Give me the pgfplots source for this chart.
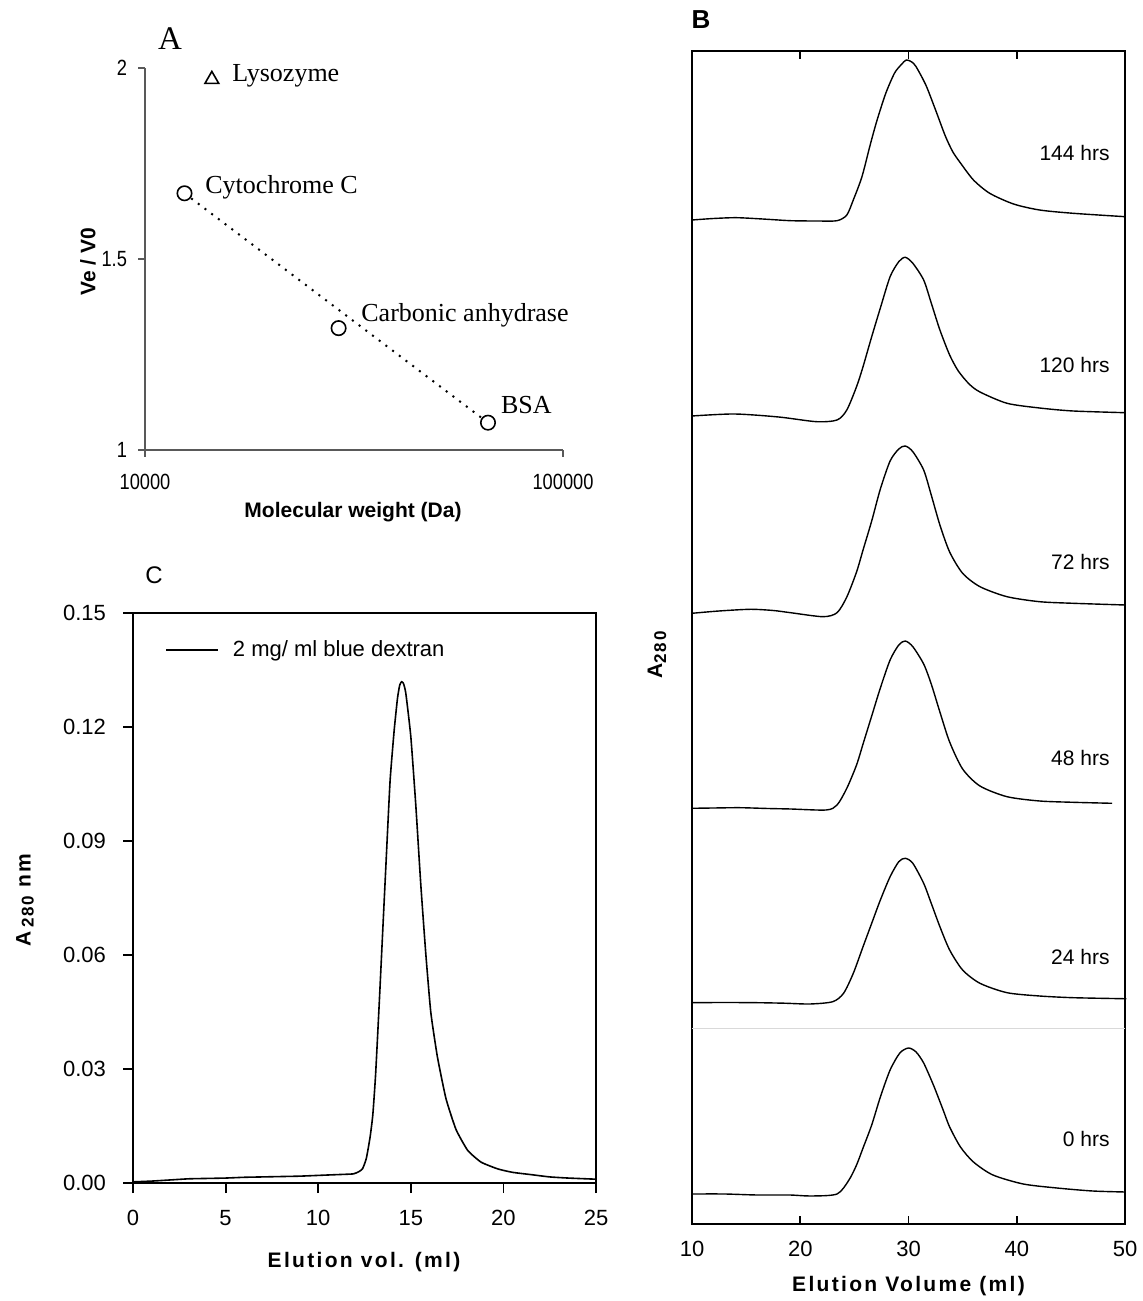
\documentclass[border=0pt]{standalone}
\usepackage{pgfplots}
\pgfplotsset{compat=1.18}
\usepackage{fontspec}
\setmainfont{Liberation Sans}
\newfontfamily\serifA{Liberation Serif}
\newfontfamily\narrowA[FakeStretch=0.83]{Liberation Sans}
\newfontfamily\labfont[LetterSpace=11]{Liberation Sans}
\pgfplotsset{trace/.style={black, line width=0.7pt, mark=none, smooth, tension=0.45}}
\begin{document}
\begin{tikzpicture}[x=1pt,y=1pt]
\useasboundingbox (0,0) rectangle (571.5,650.5);
% ---------------- Panel A ----------------
\begin{axis}[
  at={(72.5pt,425.5pt)}, anchor=south west,
  scale only axis, width=209pt, height=191pt,
  xmode=log, xmin=10000, xmax=100000, ymin=1, ymax=2,
  xminorticks=false,
  axis x line=bottom, axis y line=left,
  axis line style={-, black!65, line width=0.9pt},
  xtick={10000,100000}, xticklabels={10000,100000},
  ytick={1,1.5,2}, yticklabels={1,1.5,2},
  tick align=outside, major tick length=3.5pt,
  tick style={black!65, line width=0.9pt},
  ticklabel style={font=\narrowA\fontsize{11}{13}\selectfont},
  xticklabel style={yshift=-5pt},
  yticklabel style={xshift=-2pt},
  clip=false,
]
\addplot[black, line width=1pt, dash pattern=on 1pt off 3.2pt] coordinates {(12430,1.672) (66150,1.0715)};
\addplot[only marks, mark=*, mark size=3.6pt, mark options={fill=white, draw=black, line width=0.8pt}] coordinates {(12430,1.672) (29050,1.319) (66150,1.0715)};
\addplot[only marks, mark=triangle, mark size=4pt, mark options={draw=black, line width=0.8pt}] coordinates {(14450,1.970)};
\end{axis}
\node[font=\serifA\fontsize{16.5}{18}\selectfont] at (85,631) {A};
\begin{scope}[every node/.style={font=\serifA\fontsize{13}{15}\selectfont, inner sep=0pt, anchor=base west}]
\node at (116,609.6) {Lysozyme};
\node at (102.5,553.5) {Cytochrome C};
\node at (180.5,489.6) {Carbonic anhydrase};
\node at (250.3,443.5) {BSA};
\end{scope}
\node[font=\bfseries\fontsize{10.5}{12}\selectfont, rotate=90] at (44,519.5) {Ve / V0};
\node[font=\bfseries\fontsize{10.5}{12}\selectfont] at (176.5,394.5) {Molecular weight (Da)};
% ---------------- Panel C ----------------
\begin{axis}[
  at={(66.5pt,59pt)}, anchor=south west,
  scale only axis, width=231.5pt, height=285pt,
  xmin=0, xmax=25, ymin=0, ymax=0.15,
  xtick={0,5,10,15,20,25},
  ytick={0,0.03,0.06,0.09,0.12,0.15},
  scaled y ticks=false,
  yticklabel style={/pgf/number format/fixed, /pgf/number format/fixed zerofill, /pgf/number format/precision=2, xshift=-5pt},
  /pgf/number format/assume math mode=true,
  tick align=outside, tick pos=left, major tick length=5pt,
  tick style={black, line width=0.9pt},
  axis line style={line width=0.9pt},
  ticklabel style={font=\fontsize{11}{13}\selectfont},
  xticklabel style={yshift=-5pt},
  legend style={draw=none, fill=none, at={(axis description cs:0.069,0.935)}, anchor=west, inner sep=0pt, font=\fontsize{11}{13}\selectfont, /tikz/every odd column/.append style={column sep=5pt}},
  legend image code/.code={\draw[#1] (0pt,0pt) -- (26pt,0pt);},
  legend cell align=left,
]
\addplot[black, line width=0.8pt, mark=none, smooth, tension=0.3] coordinates {
(0,0.0003) (1,0.0005) (2,0.0008) (3,0.0011) (4,0.0012) (5,0.0013) (6,0.0015) (7,0.0016) (8,0.0017) (9,0.0018) (10,0.0020) (11,0.0022) (11.9,0.0024) (12.2,0.0030) (12.4,0.0038) (12.6,0.0065) (12.8,0.0120) (12.95,0.0180) (13.1,0.0286) (13.29,0.0467) (13.47,0.0649) (13.65,0.0830) (13.88,0.1057) (14.1,0.1190) (14.28,0.1275) (14.4,0.1310) (14.5,0.1319) (14.6,0.1315) (14.73,0.1289) (15.0,0.1175) (15.27,0.0994) (15.54,0.0785) (15.81,0.0603) (16.08,0.0449) (16.44,0.0331) (16.9,0.0222) (17.44,0.0141) (18.07,0.0086) (18.79,0.0055) (19.7,0.0037) (20.5,0.0028) (21.5,0.0022) (22.5,0.0016) (23.5,0.0013) (25,0.0010)};
\addlegendentry{2 mg/ ml blue dextran}
\end{axis}
\node[font=\fontsize{12}{14}\selectfont] at (77,363) {C};
\node[font=\labfont\bfseries\fontsize{10.5}{12}\selectfont, rotate=90] at (12.5,200.5) {A\,\raisebox{-1.5pt}{\fontsize{8.5}{9}\selectfont 280} nm};
\node[font=\labfont\bfseries\fontsize{10.5}{12}\selectfont] at (182,19.5) {Elution vol. (ml)};
% ---------------- Panel B ----------------
\begin{axis}[
  at={(346pt,38.5pt)}, anchor=south west,
  scale only axis, width=216.5pt, height=586.5pt,
  xmin=10, xmax=50, ymin=0, ymax=1173,
  xtick={10,20,30,40,50}, ytick=\empty,
  xtick pos=both, xticklabel pos=lower,
  tick align=inside, major tick length=4pt,
  tick style={black, line width=0.9pt},
  axis line style={line width=0.9pt},
  /pgf/number format/assume math mode=true,
  ticklabel style={font=\fontsize{11}{13}\selectfont},
  xticklabel style={yshift=-5pt},
  clip=false,
]
\addplot[black!15, line width=0.5pt, mark=none] coordinates {(10,195) (50,195)};
% 0 hrs
\addplot[trace] coordinates {
(10,30) (13,30) (16,29) (19,29) (21,28) (23.4,30) (24.5,44) (25.2,59) (25.8,76) (26.6,99) (27.4,127) (28.3,154) (29.2,171) (30,176) (30.7,172) (31.4,161) (32.3,139) (33.2,114) (33.8,97) (34.8,77) (36,62) (37.8,49) (40.6,40) (43.7,36) (47,33) (50,32)};
% 24 hrs
\addplot[trace] coordinates {
(10,221.3) (13,221.5) (16,221.3) (18.5,220.8) (20.9,220) (23.0,222.3) (24.0,230.7) (24.9,250.7) (25.8,277.3) (26.6,300.7) (27.4,324) (28.3,347.3) (29.1,362.3) (29.7,365.7) (30.4,360.7) (31.4,340.7) (32.1,320.7) (32.9,297.3) (33.8,274) (35,254) (36.6,240.7) (39.1,231.3) (42.1,228) (45.2,226.3) (49.8,225.3) (50,225.3)};
% 48 hrs
\addplot[trace] coordinates {
(10,415.7) (12,416) (14.4,416.3) (17,415.5) (19.1,415) (22.4,414) (23.4,419) (24.3,435.7) (25.2,459) (25.8,480) (26.6,508) (27.4,536) (28.3,564) (29.1,579) (29.7,583) (30.4,577.3) (31.4,560) (32.1,540) (32.9,512) (33.8,482) (35,455) (36.6,438) (39.1,427.3) (42.1,423) (45.2,421.7) (48.8,420.7)};
% 72 hrs
\addplot[trace] coordinates {
(10,610.7) (12.5,613) (15.4,614.7) (17.5,613.5) (19.1,611.3) (22.1,607.3) (23.4,611.3) (24.3,627) (25.2,652) (25.8,674) (26.6,703) (27.4,735) (28.3,763) (29.1,775) (29.7,778) (30.4,772.3) (31.4,754) (32.1,729) (32.9,699) (33.8,672) (35,650.7) (36.6,637.3) (39.1,627.3) (42.1,622.3) (45.2,620.7) (50,619)};
% 120 hrs
\addplot[trace] coordinates {
(10,808) (13.9,810) (18,807) (21.5,802.3) (23.4,804) (24.3,814) (25.2,837.3) (25.8,857.3) (26.6,887.3) (27.4,916) (28.3,947.3) (29.1,962.3) (29.7,966.7) (30.4,960.7) (31.4,944) (32.1,921) (32.9,894) (33.8,869) (34.6,853) (35.6,840) (36.6,832) (39.1,820.7) (42.1,816) (45.2,813) (50,811.3)};
% 144 hrs
\addplot[trace] coordinates {
(10,1004) (12,1005.5) (14.1,1006.3) (16.5,1005) (19.1,1003.3) (21.5,1003) (23.4,1003.3) (24.3,1009) (24.9,1024) (25.7,1047.3) (26.5,1080.7) (27.1,1104) (27.9,1130.7) (28.7,1150.7) (29.3,1159) (29.8,1164) (30.3,1162) (30.7,1157.3) (31.6,1139) (32.5,1114) (33.4,1088) (34.1,1072) (34.8,1061) (36.0,1044) (37.5,1030.7) (39.7,1020) (42.1,1014) (45.2,1010.7) (50,1007.3)};
\end{axis}
\begin{scope}[every node/.style={font=\fontsize{10.5}{12}\selectfont, anchor=east, inner sep=0pt}]
\node at (555,574) {144 hrs};
\node at (555,468) {120 hrs};
\node at (555,369.5) {72 hrs};
\node at (555,271.5) {48 hrs};
\node at (555,172) {24 hrs};
\node at (555,81) {0 hrs};
\end{scope}
\node[font=\bfseries\fontsize{13}{15}\selectfont] at (350.5,640.5) {B};
\node[font=\labfont\bfseries\fontsize{10.5}{12}\selectfont, rotate=90] at (328.5,323) {A\raisebox{-2pt}{\fontsize{8.5}{9}\selectfont 280}};
\node[font=\labfont\bfseries\fontsize{10.5}{12}\selectfont] at (454.25,7.5) {Elution Volume (ml)};
\end{tikzpicture}
\end{document}
